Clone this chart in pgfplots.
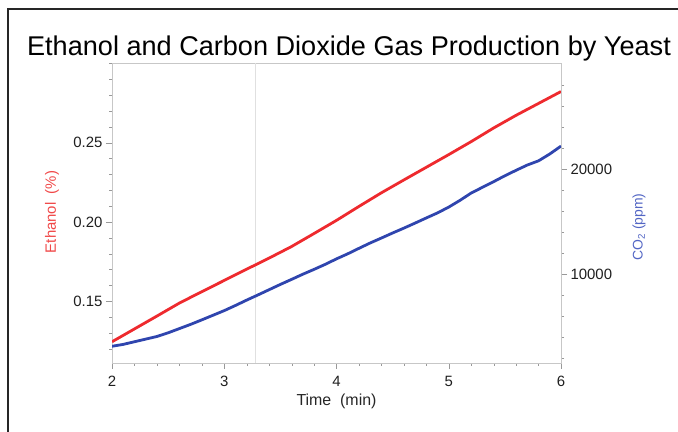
\documentclass[border=0pt]{standalone}
\usepackage{fontspec}
\setmainfont{Liberation Sans}
\usepackage{pgfplots}
\pgfplotsset{compat=1.18}
\definecolor{ered}{HTML}{EE2A2E}
\definecolor{cblue}{HTML}{2F45AE}
\definecolor{lred}{HTML}{F04848}
\definecolor{lblue}{HTML}{5366C4}
\pgfplotstableread{
t e
2.0 0.1244
2.2 0.1325
2.4 0.1406
2.6 0.1488
2.8 0.1560
3.0 0.1631
3.2 0.1702
3.4 0.1772
3.6 0.1845
3.8 0.1927
4.0 0.2010
4.2 0.2098
4.4 0.2184
4.6 0.2265
4.8 0.2345
5.0 0.2425
5.2 0.2507
5.4 0.2593
5.6 0.2673
5.8 0.2748
6.0 0.2823
}\ethanol
\pgfplotstableread{
t c
2.0 3170
2.1 3350
2.2 3600
2.3 3850
2.4 4100
2.5 4450
2.6 4850
2.7 5250
2.8 5680
2.9 6120
3.0 6560
3.1 7050
3.2 7560
3.3 8050
3.4 8550
3.5 9050
3.6 9530
3.7 10020
3.8 10480
3.9 10960
4.0 11480
4.1 11960
4.2 12480
4.3 12990
4.4 13460
4.5 13940
4.6 14400
4.7 14880
4.8 15370
4.9 15850
5.0 16400
5.1 17040
5.2 17740
5.3 18280
5.4 18820
5.5 19380
5.6 19900
5.7 20400
5.8 20800
5.9 21450
6.0 22200
}\cotwo
\pgfplotsset{
  common/.style={
    at={(112bp,69bp)}, anchor=south west, scale only axis,
    width=449bp, height=300bp, xmin=2, xmax=6,
    axis line style={black!22}, tick style={black!40},
    tick align=outside, major tick length=6bp, minor tick length=3bp,
    ticklabel style={font=\fontsize{15}{15}\selectfont, text=black!88},
    /pgf/number format/assume math mode=true,
  }
}
\begin{document}
\begin{tikzpicture}
\useasboundingbox (0,0) rectangle (678bp,432bp);
\draw[black!85, line width=1.3bp] (8bp,0) -- (8bp,423bp) -- (679bp,423bp);
\node[anchor=base, font=\fontsize{27.2}{27.2}\selectfont, text=black] at (349bp,376bp) {Ethanol and Carbon Dioxide Gas Production by Yeast};
\node[rotate=90, font=\fontsize{15}{15}\selectfont, text=lred] at (52bp,220bp) {Ethanol\ \ (\%)};
\node[rotate=90, font=\fontsize{14}{14}\selectfont, text=lblue] at (639bp,205bp) {CO\textsubscript{2} (ppm)};
\begin{axis}[common,
  ymin=0.111, ymax=0.3003,
  xtick={2,3,4,5,6}, minor x tick num=4, xtick pos=bottom,
  xticklabel style={yshift=-4bp},
  ytick={0.15,0.20,0.25}, minor ytick={0.11,0.12,0.13,0.14,0.16,0.17,0.18,0.19,0.21,0.22,0.23,0.24,0.26,0.27,0.28,0.29,0.30}, ytick pos=left,
  yticklabel style={/pgf/number format/.cd, fixed, fixed zerofill, precision=2},
  xlabel={Time\ \ (min)},
  xlabel style={font=\fontsize{16}{16}\selectfont, text=black!85, yshift=0bp},
]
\addplot[black!12, line width=0.8bp, forget plot] coordinates {(3.28,0.111) (3.28,0.3003)};
\addplot[ered, line width=2.8bp] table[x=t, y=e] {\ethanol};
\end{axis}
\begin{axis}[common,
  ymin=1580, ymax=30100,
  hide x axis, axis y line*=right,
  ytick={10000,20000}, minor ytick={2000,4000,...,28000},
  scaled y ticks=false,
  yticklabel style={/pgf/number format/1000 sep={}},
]
\addplot[cblue, line width=2.8bp] table[x=t, y=c] {\cotwo};
\end{axis}
\end{tikzpicture}
\end{document}
